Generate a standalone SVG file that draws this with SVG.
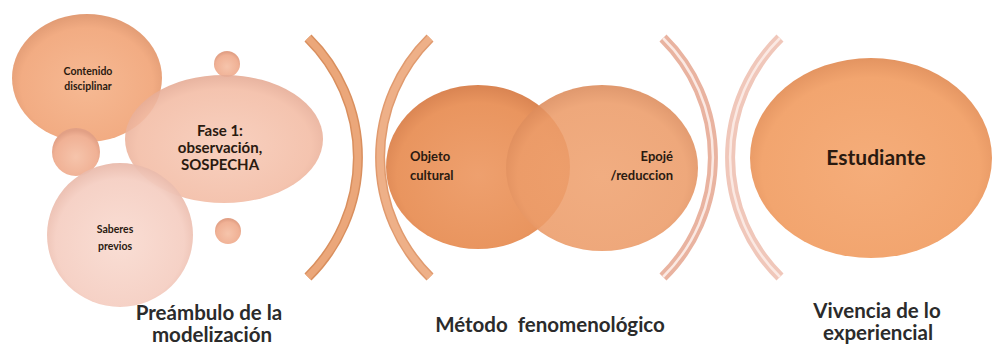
<svg xmlns="http://www.w3.org/2000/svg" width="994" height="347" viewBox="0 0 994 347">
<style>
.t{font-family:"Lato","Liberation Sans",sans-serif;fill:#2a1a10;font-weight:bold}
.cap{font-family:"Lato","Liberation Sans",sans-serif;fill:#2b2b2b;font-size:20.5px;font-weight:bold}
.arcA{fill:none;stroke:#d98f5e;stroke-width:10}
.arcAi{fill:none;stroke:#eba77a;stroke-width:7}
.arcB{fill:none;stroke:#e9b3a0;stroke-width:10}
.arcBi{fill:none;stroke:#fbe9e3;stroke-width:2.5}
</style>
<defs>
<radialGradient id="gC" cx="50%" cy="55%" r="55%">
<stop offset="0" stop-color="#f6b993"/><stop offset="0.8" stop-color="#f2ac83"/><stop offset="1" stop-color="#e19b74"/>
</radialGradient>
<radialGradient id="gF" cx="50%" cy="55%" r="55%">
<stop offset="0" stop-color="#f7cbb8"/><stop offset="0.8" stop-color="#f3bda6"/><stop offset="1" stop-color="#e5ab95"/>
</radialGradient>
<radialGradient id="gS" cx="50%" cy="55%" r="55%">
<stop offset="0" stop-color="#f9dcd2"/><stop offset="0.8" stop-color="#f5cfc3"/><stop offset="1" stop-color="#e9baab"/>
</radialGradient>
<radialGradient id="gD" cx="50%" cy="60%" r="55%">
<stop offset="0" stop-color="#f6c4ab"/><stop offset="0.8" stop-color="#f0b195"/><stop offset="1" stop-color="#e2a085"/>
</radialGradient>
<radialGradient id="gO" cx="50%" cy="55%" r="55%">
<stop offset="0" stop-color="#eea06e"/><stop offset="0.8" stop-color="#e9955f"/><stop offset="1" stop-color="#d98452"/>
</radialGradient>
<radialGradient id="gE" cx="50%" cy="55%" r="55%">
<stop offset="0" stop-color="#efa270"/><stop offset="0.8" stop-color="#ec9c69"/><stop offset="1" stop-color="#db8a5a"/>
</radialGradient>
<radialGradient id="gU" cx="50%" cy="55%" r="55%">
<stop offset="0" stop-color="#f5ad7a"/><stop offset="0.82" stop-color="#f2a56f"/><stop offset="1" stop-color="#e39461"/>
</radialGradient>
</defs>
<rect width="994" height="347" fill="#ffffff"/>

<g id="brackets">
<path class="arcA" d="M308,38 A168,168 0 0 1 308,277"/>
<path class="arcAi" d="M308,38 A168,168 0 0 1 308,277"/>
<path class="arcA" d="M430,38 A168,168 0 0 0 430,277" style="stroke:#e09a6e"/>
<path class="arcAi" d="M430,38 A168,168 0 0 0 430,277" style="stroke:#eeb088"/>
<path class="arcB" d="M663,38 A168,168 0 0 1 663,277"/>
<path class="arcBi" d="M663,38 A168,168 0 0 1 663,277"/>
<path class="arcB" d="M780,38 A168,168 0 0 0 780,277" style="stroke:#f0c7ba"/>
<path class="arcBi" d="M780,38 A168,168 0 0 0 780,277"/>
</g>

<g id="contenido">
<ellipse cx="87" cy="78" rx="75" ry="64" fill="url(#gC)"/>
<text class="t" font-size="10.5" x="88" y="75" text-anchor="middle">Contenido</text>
<text class="t" font-size="10.5" x="88" y="90" text-anchor="middle">disciplinar</text>
</g>

<g id="dot-top"><circle cx="227" cy="64" r="13" fill="url(#gD)"/></g>
<g id="dot-left"><circle cx="76" cy="152" r="24" fill="url(#gD)"/></g>
<g id="dot-bottom"><circle cx="228" cy="231" r="13" fill="url(#gD)"/></g>

<g id="fase1">
<ellipse cx="224" cy="139" rx="99" ry="64" fill="url(#gF)" opacity="0.9"/>
<text class="t" font-size="15" x="220" y="136" text-anchor="middle">Fase 1:</text>
<text class="t" font-size="15" x="220" y="153" text-anchor="middle">observación,</text>
<text class="t" font-size="15" x="220" y="170" text-anchor="middle">SOSPECHA</text>
</g>

<g id="saberes">
<ellipse cx="120" cy="235" rx="73" ry="72" fill="url(#gS)" opacity="0.95"/>
<text class="t" font-size="10.5" x="115" y="233" text-anchor="middle">Saberes</text>
<text class="t" font-size="10.5" x="115" y="250" text-anchor="middle">previos</text>
</g>

<g id="objeto">
<ellipse cx="478" cy="167" rx="92" ry="82" fill="url(#gO)"/>
<text class="t" font-size="13" x="410" y="161">Objeto</text>
<text class="t" font-size="13" x="410" y="180">cultural</text>
</g>

<g id="epoje">
<ellipse cx="602" cy="168" rx="96" ry="83" fill="url(#gE)" opacity="0.88"/>
<text class="t" font-size="13" x="673" y="161" text-anchor="end">Epojé</text>
<text class="t" font-size="13" x="673" y="180" text-anchor="end">/reduccion</text>
</g>

<g id="estudiante">
<ellipse cx="871" cy="158" rx="121" ry="100" fill="url(#gU)"/>
<text class="t" font-size="21" x="876" y="165" text-anchor="middle">Estudiante</text>
</g>

<g id="labels">
<text class="cap" x="209" y="320" text-anchor="middle">Preámbulo de la</text>
<text class="cap" x="212" y="342" text-anchor="middle">modelización</text>
<text class="cap" x="550" y="332" text-anchor="middle" xml:space="preserve">Método  fenomenológico</text>
<text class="cap" x="877" y="318" text-anchor="middle">Vivencia de lo</text>
<text class="cap" x="878" y="340" text-anchor="middle">experiencial</text>
</g>
</svg>
